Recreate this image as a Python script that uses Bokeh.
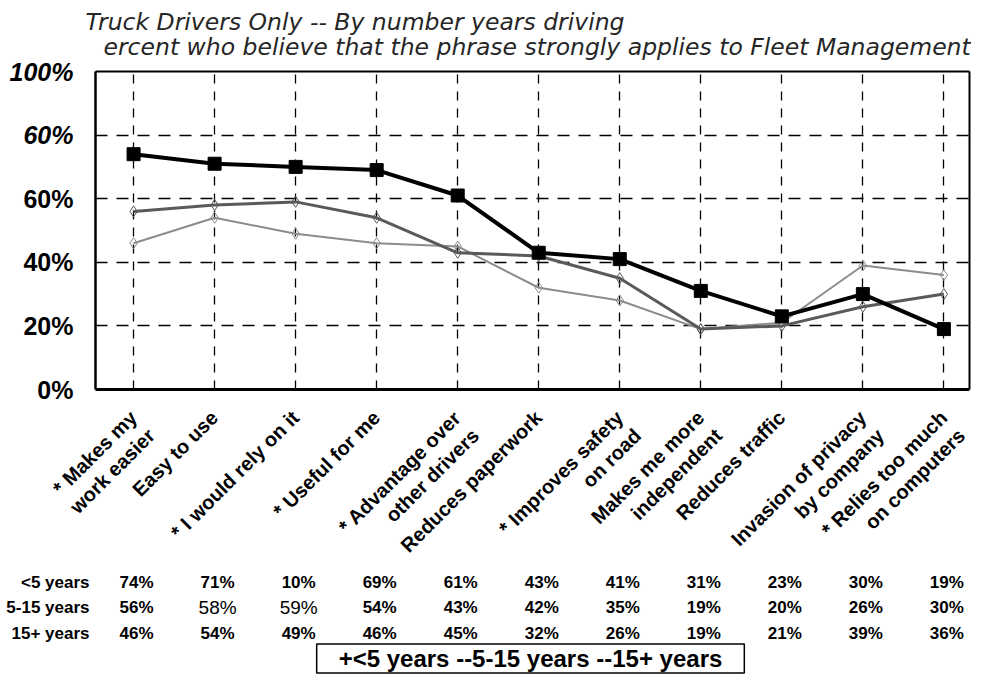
import math
from bokeh.plotting import figure
from bokeh.models import Label, FixedTicker, Range1d, LinearAxis
from bokeh.embed import file_html
from bokeh.resources import INLINE

# ---------------- data ----------------
categories = [
    "* Makes my\nwork easier",
    "Easy to use",
    "* I would rely on it",
    "* Useful for me",
    "* Advantage over\nother drivers",
    "Reduces paperwork",
    "* Improves safety\non road",
    "Makes me more\nindependent",
    "Reduces traffic",
    "Invasion of privacy\nby company",
    "* Relies too much\non computers",
]
series_names = ["<5 years", "5-15 years", "15+ years"]
lt5 = [74, 71, 70, 69, 61, 43, 41, 31, 23, 30, 19]
mid = [56, 58, 59, 54, 43, 42, 35, 19, 20, 26, 30]
gt15 = [46, 54, 49, 46, 45, 32, 28, 19, 21, 39, 36]

table_lt5 = ["74%", "71%", "10%", "69%", "61%", "43%", "41%", "31%", "23%", "30%", "19%"]
table_mid = ["56%", "58%", "59%", "54%", "43%", "42%", "35%", "19%", "20%", "26%", "30%"]
table_gt15 = ["46%", "54%", "49%", "46%", "45%", "32%", "26%", "19%", "21%", "39%", "36%"]
regular_cells = {(1, 1), (1, 2)}  # cells printed in a lighter, larger face

y_ticks = [0, 20, 40, 60, 80, 100]
y_tick_labels = ["0%", "20%", "40%", "60%", "60%", "100%"]
italic_ticks = [80, 100]

title1 = "Truck Drivers Only -- By number years driving"
title2 = "ercent who believe that the phrase strongly applies to Fleet Management"
legend_text = "+<5 years --5-15 years --15+ years"

# ---------------- layout (picture px -> data) ----------------
W, H = 971, 676
X0, X1 = -0.47, 10.31          # plot box in category units
XPX = 81.03                    # px per category
YPX = 3.18                     # px per percent
LEFT_PX, TOP_PX = 95, 71       # position of plot box left edge / 100% line
XS = X0 - LEFT_PX / XPX
XE = XS + W / XPX
YE = 100 + TOP_PX / YPX
YS = YE - H / YPX


def px2x(px):
    return XS + px / XPX


def py2y(py):
    return YE - py / YPX


FONT = "Liberation Sans"

p = figure(width=W, height=H, x_range=Range1d(XS, XE), y_range=Range1d(YS, YE),
           output_backend="svg", toolbar_location=None,
           min_border=0, min_border_left=0, min_border_right=0,
           min_border_top=0, min_border_bottom=0)
p.background_fill_color = "white"
p.border_fill_color = "white"
p.outline_line_color = None

# y axis
ya = p.yaxis[0]
ya.fixed_location = X0
ya.bounds = (0, 100)
ya.ticker = FixedTicker(ticks=y_ticks)
ya.major_label_overrides = {t: ("" if t in italic_ticks else lab)
                            for t, lab in zip(y_ticks, y_tick_labels)}
ya.major_label_text_font = FONT
ya.major_label_text_font_style = "bold"
ya.major_label_text_font_size = "25px"
ya.major_label_text_color = "black"
ya.major_tick_out = 0
ya.major_tick_in = 0
ya.minor_tick_out = 0
ya.minor_tick_in = 0
ya.major_label_standoff = 22
ya.axis_line_width = 2.5
ya.axis_line_color = "black"

# x axis (bottom line of the plot box)
xa = p.xaxis[0]
xa.fixed_location = 0
xa.bounds = (X0, X1)
xa.ticker = FixedTicker(ticks=[])
xa.axis_line_width = 3
xa.axis_line_color = "black"
xa.major_tick_out = 0
xa.minor_tick_out = 0

# top and right edges of the plot box
top_ax = LinearAxis(fixed_location=100, bounds=(X0, X1), ticker=FixedTicker(ticks=[]),
                    axis_line_width=2, axis_line_color="black",
                    major_tick_out=0, minor_tick_out=0)
right_ax = LinearAxis(fixed_location=X1, bounds=(0, 100), ticker=FixedTicker(ticks=[]),
                      axis_line_width=2, axis_line_color="black",
                      major_tick_out=0, minor_tick_out=0)
p.add_layout(top_ax, "above")
p.add_layout(right_ax, "right")

# grids
p.xgrid.ticker = FixedTicker(ticks=list(range(len(categories))))
p.xgrid.cross_bounds = (0, 100)
p.xgrid.grid_line_color = "black"
p.xgrid.grid_line_width = 1.3
p.xgrid.grid_line_dash = "9 8"
p.ygrid.ticker = FixedTicker(ticks=[20, 40, 60, 80])
p.ygrid.cross_bounds = (X0, X1)
p.ygrid.grid_line_color = "black"
p.ygrid.grid_line_width = 1.3
p.ygrid.grid_line_dash = "12 9"

xs = list(range(len(categories)))

# series
p.line(xs, gt15, line_color="#8c8c8c", line_width=2)
p.scatter(xs, gt15, marker="diamond", size=11, fill_color=None, line_color="#8c8c8c", line_width=1)
p.line(xs, mid, line_color="#5a5a5a", line_width=3)
p.scatter(xs, mid, marker="diamond", size=11, fill_color=None, line_color="#5a5a5a", line_width=1)
p.line(xs, lt5, line_color="black", line_width=4)
p.scatter(xs, lt5, marker="square", size=13, fill_color="black", line_color="black")

# italic tick labels
for t in italic_ticks:
    p.add_layout(Label(x=px2x(73), y=t, text=y_tick_labels[y_ticks.index(t)],
                       text_align="right", text_baseline="middle",
                       text_font=FONT, text_font_style="bold italic",
                       text_font_size="25px", text_color="black"))

# category labels
for i, c in enumerate(categories):
    p.add_layout(Label(x=i - 8 / XPX, y=py2y(406), text=c, angle=math.pi / 4,
                       text_align="right", text_baseline="top",
                       text_font=FONT, text_font_style="bold", text_font_size="20px",
                       text_color="black", text_line_height=1.15))

# titles
p.add_layout(Label(x=px2x(85), y=py2y(21), text=title1, text_align="left",
                   text_baseline="middle", text_font="DejaVu Sans", text_font_style="italic",
                   text_font_size="23.5px", text_color="#262626"))
p.add_layout(Label(x=px2x(103), y=py2y(46), text=title2, text_align="left",
                   text_baseline="middle", text_font="DejaVu Sans", text_font_style="italic",
                   text_font_size="23.5px", text_color="#262626"))

# data table
rows = [table_lt5, table_mid, table_gt15]
row_y = [582, 607, 633]
for r, (name, vals, yy) in enumerate(zip(series_names, rows, row_y)):
    p.add_layout(Label(x=px2x(89), y=py2y(yy), text=name, text_align="right",
                       text_baseline="middle", text_font=FONT, text_font_style="bold",
                       text_font_size="17px", text_color="black"))
    for i, v in enumerate(vals):
        reg = (r, i) in regular_cells
        p.add_layout(Label(x=i + 3 / XPX, y=py2y(yy), text=v, text_align="center",
                           text_baseline="middle", text_font=FONT,
                           text_font_style="normal" if reg else "bold",
                           text_font_size="19px" if reg else "17px", text_color="black"))

# legend box
p.add_layout(Label(x=px2x(530), y=py2y(658), text=legend_text, text_align="center",
                   text_baseline="middle", text_font=FONT, text_font_style="bold",
                   text_font_size="24px", text_color="black",
                   border_line_color="black", border_line_width=1.5,
                   background_fill_color="white", padding=(22, 1)))

open("out.html", "w").write(file_html(p, INLINE))
